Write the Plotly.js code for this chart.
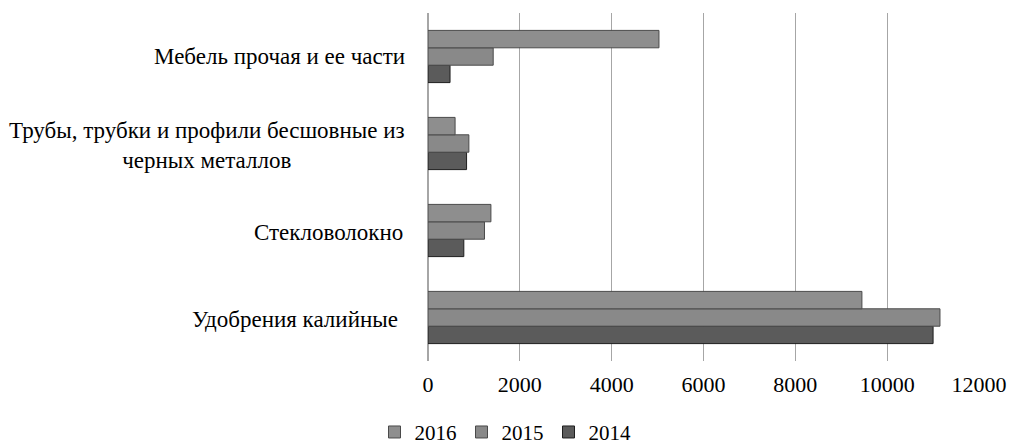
<!DOCTYPE html>
<html><head><meta charset="utf-8">
<script src="https://cdn.plot.ly/plotly-3.0.1.min.js"></script>
<style>html,body{margin:0;padding:0;background:#fff}#chart{width:1011px;height:448px}</style>
</head><body><div id="chart"></div>
<script>
const categories = ["Удобрения калийные", "Стекловолокно", "Трубы, трубки и профили бесшовные из черных металлов", "Мебель прочая и ее части"];
const categoryLabels = ["Удобрения калийные", "Стекловолокно", "Трубы, трубки и профили бесшовные из<br>черных металлов", "Мебель прочая и ее части"];
const values2014 = [11000, 780, 840, 480];
const values2015 = [11150, 1230, 890, 1420];
const values2016 = [9450, 1370, 590, 5030];
const xTicks = [0, 2000, 4000, 6000, 8000, 10000, 12000];

const font = "'Liberation Serif', 'Times New Roman', serif";
function tr(name, vals, color, lc) {
  return {type: 'bar', orientation: 'h', name: name, x: vals, y: categories,
    marker: {color: color, line: {color: lc, width: 1}}};
}
const data = [
  tr('2014', values2014, '#5b5b5b', '#1e1e1e'),
  tr('2015', values2015, '#898989', '#4a4a4a'),
  tr('2016', values2016, '#8e8e8e', '#4a4a4a')
];
const shifts = [-28, -23, -21, -21];
const yshifts = [-2, -2, -2, 0];
const ann = categories.map((c, i) => ({
  text: categoryLabels[i], y: c, x: 0, xref: 'paper', yref: 'y', xshift: shifts[i], yshift: yshifts[i],
  xanchor: 'right', yanchor: 'middle', align: 'center', showarrow: false,
  font: {family: font, size: 23, color: '#000'}
}));

const layout = {
  width: 1011, height: 448,
  margin: {l: 428, r: 32, t: 13, b: 87},
  paper_bgcolor: '#fff', plot_bgcolor: '#fff',
  barmode: 'group', bargap: 0.40, bargroupgap: 0,
  font: {family: font, size: 22, color: '#000'},
  xaxis: {range: [0, 12000], tickvals: xTicks, ticktext: xTicks.map(String),
    showgrid: true, gridcolor: '#a6a6a6', gridwidth: 1.2, zeroline: true, zerolinecolor: '#a6a6a6', zerolinewidth: 1.2,
    showline: false, ticks: 'outside', ticklen: 4, tickcolor: 'rgba(0,0,0,0)',
    tickfont: {family: font, size: 22, color: '#000'}, fixedrange: true, automargin: false},
  yaxis: {type: 'category', categoryorder: 'array', categoryarray: categories,
    showticklabels: false, showgrid: false, zeroline: false, showline: false, ticks: '', automargin: false},
  legend: {orientation: 'h', xref: 'container', x: 0.5, xanchor: 'center', yref: 'container', y: 0.035, yanchor: 'middle',
    traceorder: 'reversed', font: {family: font, size: 21, color: '#000'}, itemwidth: 30, tracegroupgap: 0},
  annotations: ann,
  showlegend: true
};
Plotly.newPlot('chart', data, layout, {staticPlot: true});
</script></body></html>
